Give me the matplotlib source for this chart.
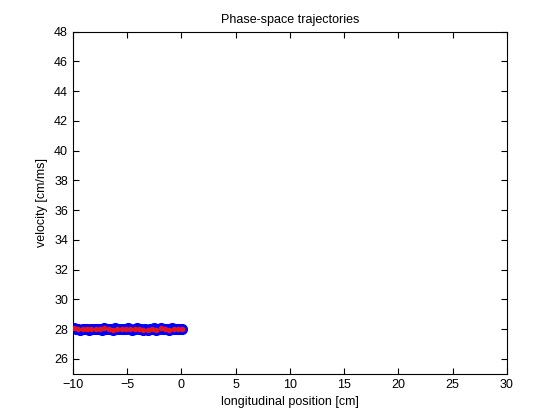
import matplotlib
matplotlib.use('Agg')
import matplotlib.pyplot as plt

plt.rcParams['font.family'] = ['Liberation Sans', 'DejaVu Sans']

# trajectory samples (longitudinal position [cm], velocity [cm/ms])
pos = [-9.9, -9.7, -9.5, -9.3, -9.1, -8.9, -8.7, -8.5, -8.3, -8.1, -7.9, -7.7,
       -7.5, -7.3, -7.1, -6.9, -6.7, -6.5, -6.3, -6.1, -5.9, -5.7, -5.5, -5.3,
       -5.1, -4.9, -4.7, -4.5, -4.3, -4.1, -3.9, -3.7, -3.5, -3.3, -3.1, -2.9,
       -2.7, -2.5, -2.3, -2.1, -1.9, -1.7, -1.5, -1.3, -1.1, -0.9, -0.7, -0.5,
       -0.3, -0.1, 0.05]
vel = [28.05, 27.98, 28.02, 27.95, 28.03, 27.99, 28.01, 27.97, 28.04, 28.00,
       27.98, 28.02, 28.01, 27.96, 28.05, 28.03, 27.99, 28.03, 27.97, 28.06,
       28.00, 27.98, 28.04, 28.02, 27.98, 28.08, 28.01, 27.96, 28.03, 28.10,
       27.99, 28.02, 27.97, 28.01, 27.95, 28.04, 28.00, 28.06, 27.97, 28.02,
       28.08, 27.99, 28.03, 28.00, 27.96, 28.05, 28.01, 27.98, 28.03, 28.00,
       28.01]

fig = plt.figure(figsize=(5.6, 4.2), dpi=100)
ax = fig.add_axes([0.13, 0.11, 0.775, 0.815])

ax.plot(pos, vel, 'o', color='b', markeredgecolor='b', markersize=7, zorder=2)
ax.plot(pos[::2], vel[::2], 'o', color='#e8141c', markeredgecolor='#e8141c',
        markersize=3, zorder=3)

ax.set_xlim(-10, 30)
ax.set_ylim(25, 48)
ax.set_xticks(range(-10, 31, 5))
ax.set_yticks(range(26, 49, 2))
ax.tick_params(direction='in', labelsize=9, top=True, right=True, length=4)
ax.set_xlabel('longitudinal position [cm]', fontsize=9)
ax.set_ylabel('velocity [cm/ms]', fontsize=9)
ax.set_title('Phase-space trajectories', fontsize=9)

fig.savefig('out.png', dpi=100)
